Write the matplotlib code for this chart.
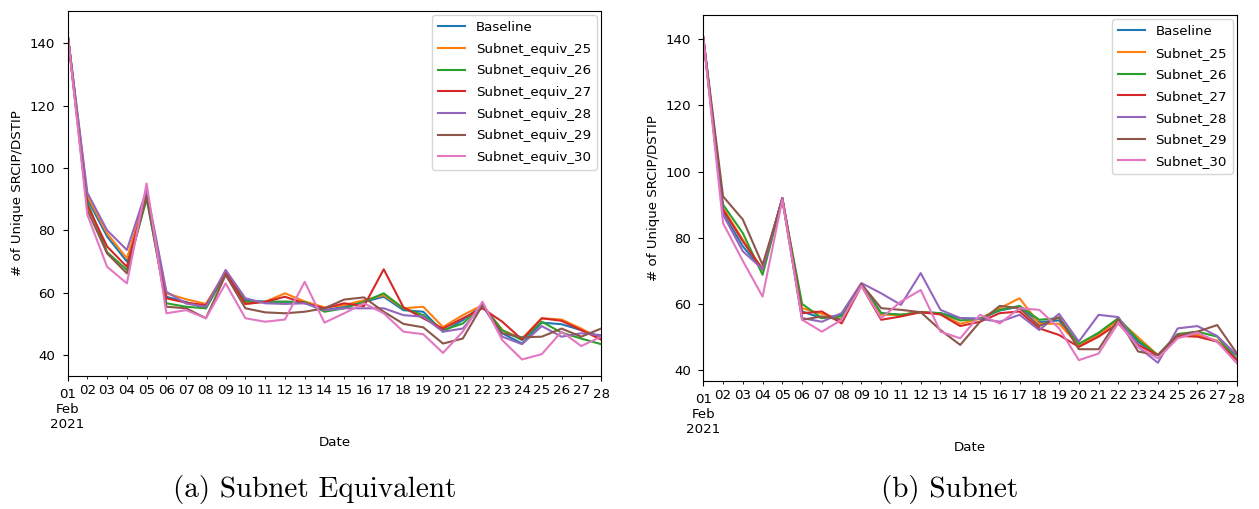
import matplotlib

matplotlib.use("Agg")
import matplotlib.pyplot as plt
import pandas as pd

dates = pd.date_range("2021-02-01", "2021-02-28", freq="D")

# daily counts, subnet-equivalent aggregation
equiv_baseline = [143, 90, 78, 70, 92, 58.7, 57, 55, 66.5, 57.6, 57.1, 57.1, 57, 54.4, 55.5, 57.1, 58.7, 54.4, 53.9, 47.5, 51.2, 56, 47, 43.7, 50.4, 49.9, 48, 45.9]
equiv_25 = [143, 91, 79, 71, 92, 59.8, 57.9, 56.4, 66.5, 56.4, 57.1, 59.8, 57.2, 55.3, 56, 57.6, 59.2, 55, 55.5, 49, 52.8, 56, 48, 45.3, 51.8, 51.4, 48.5, 45]
equiv_26 = [143, 89, 73, 67.3, 90, 56.6, 55.5, 55, 66, 57.1, 57.1, 57.1, 57, 53.9, 55, 57.1, 59.8, 55, 52.8, 48, 50.1, 56, 48, 44.8, 50.7, 47.2, 45.3, 43.5]
equiv_27 = [143, 88, 74.8, 68.3, 92, 58.2, 56.8, 56, 66.5, 56.4, 57.1, 58.7, 56.6, 55, 56.6, 55.7, 67.5, 55.3, 51.8, 48.5, 51.8, 55, 50.7, 45, 51.8, 51, 48, 45]
equiv_28 = [143, 92, 80, 73.7, 93, 60.3, 56.5, 55.5, 67.3, 58.2, 56.6, 56.4, 56.6, 54.4, 55, 55, 55, 52.8, 52.3, 47.5, 48.5, 56, 45.9, 43.5, 49.3, 45.9, 47, 46.4]
equiv_29 = [143, 86.5, 72.6, 66.2, 91, 55.5, 55, 51.8, 65.7, 55, 53.7, 53.4, 53.9, 55, 57.8, 58.5, 53.9, 50, 48.9, 43.7, 45.3, 56, 47, 45.7, 45.9, 48.5, 45.9, 48.5]
equiv_30 = [143, 85, 68.3, 63, 95, 53.4, 54.4, 51.8, 63, 51.8, 50.7, 51.4, 63.5, 50.4, 53.4, 56.6, 53.4, 47.5, 46.7, 40.7, 47.5, 57.1, 44.8, 38.6, 40.3, 47.5, 42.9, 45.9]

# daily counts, plain subnet aggregation
subnet_baseline = [140.5, 87.5, 77.4, 70.3, 92, 57.7, 55.7, 56.7, 66, 57.2, 56.7, 57.5, 57.2, 55.7, 55.5, 58, 59.2, 54.5, 55, 47.5, 50.8, 55.6, 48.5, 44.5, 50.6, 50.8, 48.6, 44.5]
subnet_25 = [140.5, 89, 79.4, 70.3, 92, 58.7, 57, 55.2, 66, 56.7, 56.7, 57.5, 57, 54, 55.5, 58.7, 61.7, 54, 54, 47.5, 50.5, 55.2, 49.9, 44.5, 50.1, 50.6, 48.9, 43.2]
subnet_26 = [140.5, 90, 81.4, 68.8, 91.5, 60, 55.7, 56.2, 66, 57.2, 56.7, 57.5, 57.2, 55, 55.5, 58.2, 59.4, 55.2, 55.7, 47.9, 51.3, 55.7, 49.1, 44.5, 50.9, 51.6, 50.1, 43.2]
subnet_27 = [140.5, 88.5, 78.9, 70.5, 92, 57.2, 57.7, 54.1, 65.5, 55.2, 56.2, 57.5, 56.8, 53.3, 54.6, 57.2, 57.7, 52.6, 50.6, 47, 50.1, 54.1, 47.6, 44.5, 50.3, 50.1, 48.6, 43]
subnet_28 = [140.5, 87, 75.9, 70.5, 92, 55.7, 54.6, 57.2, 66.3, 63.2, 59.7, 69.3, 58.2, 55.7, 55.5, 54.6, 56.7, 52.1, 57, 48.6, 56.7, 56, 47, 42.2, 52.6, 53.3, 50.3, 44.5]
subnet_29 = [140.5, 92.5, 85.5, 71.8, 91.5, 55.2, 56.2, 55.2, 66, 58.7, 58.2, 57.5, 52.1, 47.6, 54.6, 59.4, 58.7, 53.3, 56, 46.3, 46.3, 55.4, 45.6, 44.5, 50.6, 51.6, 53.6, 45]
subnet_30 = [140.5, 84.4, 73, 62.2, 91.5, 55.2, 51.6, 55.2, 65.5, 55.7, 60.7, 64.2, 51.6, 49.6, 56.7, 54.1, 58.7, 58.2, 52.6, 43, 45, 54.3, 47, 43.5, 49.6, 51.3, 48.6, 42]

equiv_labels = ["Baseline", "Subnet_equiv_25", "Subnet_equiv_26", "Subnet_equiv_27",
                "Subnet_equiv_28", "Subnet_equiv_29", "Subnet_equiv_30"]
subnet_labels = ["Baseline", "Subnet_25", "Subnet_26", "Subnet_27",
                 "Subnet_28", "Subnet_29", "Subnet_30"]
colors = ["tab:blue", "tab:orange", "tab:green", "tab:red", "tab:purple", "tab:brown", "tab:pink"]

plt.rcParams["font.size"] = 9.6


def draw_panel(ax, series, labels, ylim):
    for vals, lab, col in zip(series, labels, colors):
        ax.plot(dates, vals, color=col, linewidth=1.5, label=lab)
    ax.set_xlim(dates[0], dates[-1])
    ax.set_ylim(*ylim)
    ax.set_yticks([40, 60, 80, 100, 120, 140])
    ax.tick_params(axis="y", pad=5.5)

    # pandas-style date ticks: month/year on the first day, day numbers as minors
    ax.set_xticks([dates[0], dates[-1]])
    ax.set_xticklabels(["01\nFeb\n2021", "28"])
    ax.tick_params(axis="x", which="major", pad=5.5)
    ax.set_xticks(dates[1:-1], minor=True)
    ax.set_xticklabels([d.strftime("%d") for d in dates[1:-1]], minor=True)
    ax.tick_params(axis="x", which="minor", length=2, pad=3.5)

    ax.set_xlabel("Date", labelpad=3)
    ax.set_ylabel("# of Unique SRCIP/DSTIP")
    ax.legend(loc="upper right", handlelength=2.0, borderpad=0.45,
              labelspacing=0.65, borderaxespad=0.3)


fig = plt.figure(figsize=(12.59, 5.09), dpi=100)
ax_a = fig.add_axes([0.0537, 0.2613, 0.4237, 0.7171])
ax_b = fig.add_axes([0.5586, 0.2515, 0.4239, 0.719])

draw_panel(ax_a, [equiv_baseline, equiv_25, equiv_26, equiv_27, equiv_28, equiv_29, equiv_30],
           equiv_labels, (33.3, 150.3))
draw_panel(ax_b, [subnet_baseline, subnet_25, subnet_26, subnet_27, subnet_28, subnet_29, subnet_30],
           subnet_labels, (36.7, 147.3))

fig.text(0.250, 0.0226, "(a) Subnet Equivalent", family="cmr10", fontsize=21, ha="center")
fig.text(0.7545, 0.0226, "(b) Subnet", family="cmr10", fontsize=21, ha="center")

fig.savefig("out.png", dpi=100)
plt.close(fig)
